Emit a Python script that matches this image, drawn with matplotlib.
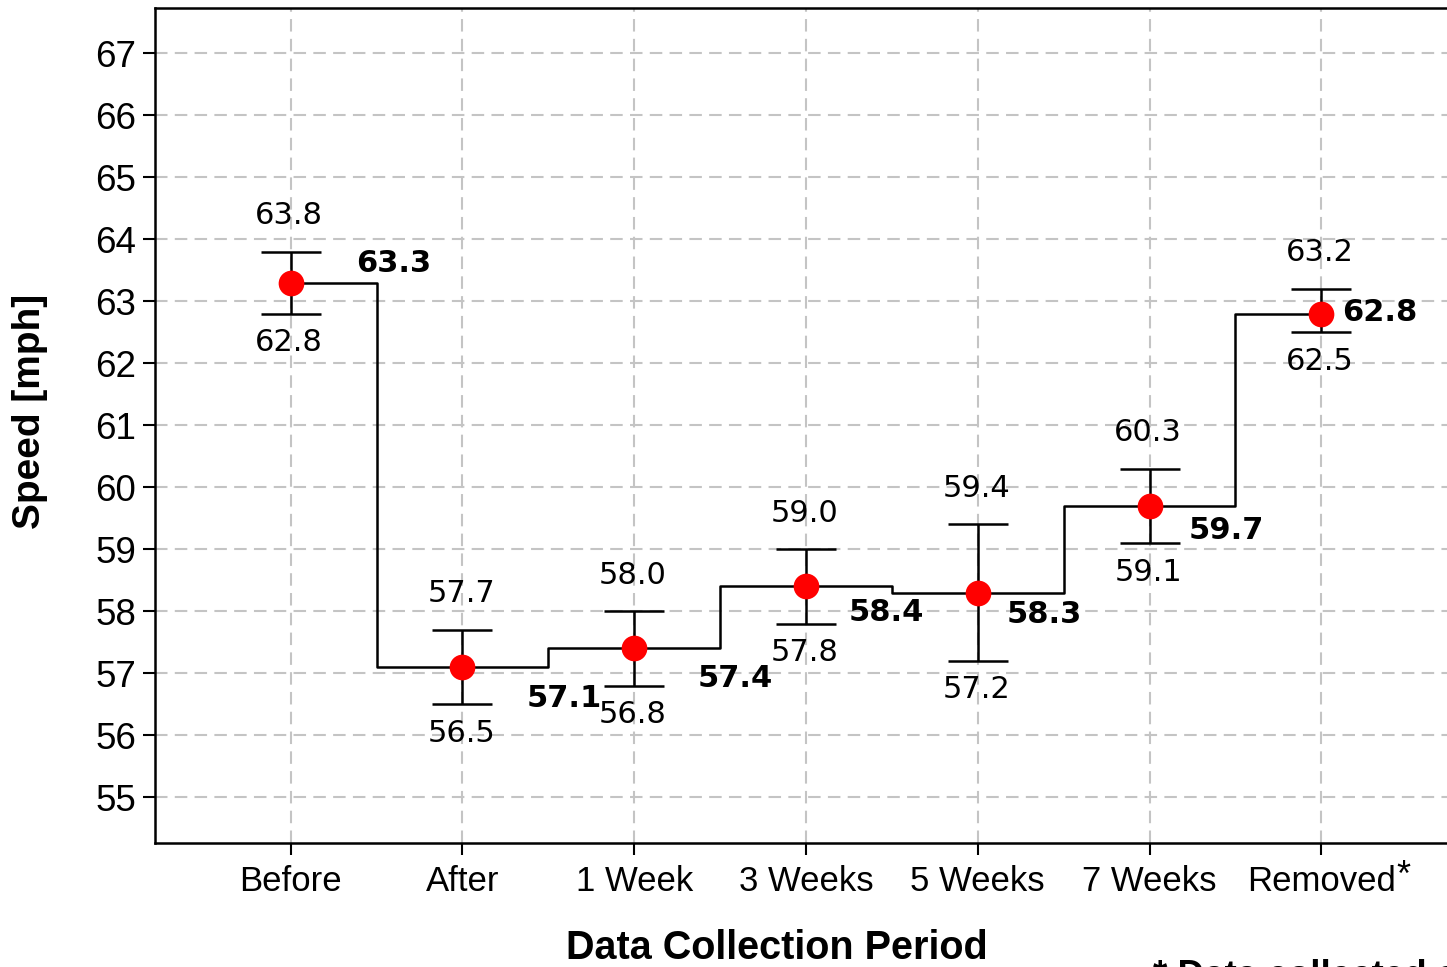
import matplotlib
matplotlib.use("Agg")
import matplotlib.pyplot as plt
import numpy as np

periods = ["Before", "After", "1 Week", "3 Weeks", "5 Weeks", "7 Weeks", "Removed"]
mean_speed = [63.3, 57.1, 57.4, 58.4, 58.3, 59.7, 62.8]
upper_speed = [63.8, 57.7, 58.0, 59.0, 59.4, 60.3, 63.2]
lower_speed = [62.8, 56.5, 56.8, 57.8, 57.2, 59.1, 62.5]
y_ticks = list(range(55, 68))

# offsets (points) of the bold mean labels, placed by hand like the original
mean_label_offsets = [(47, 13.5), (46, -23), (46, -22), (31, -18.5), (21, -15.5), (28, -18), (15, 1)]

plt.rcParams['font.family'] = ['Liberation Sans', 'DejaVu Sans']

fig = plt.figure(figsize=(14.47, 9.67), dpi=100)
ax = fig.add_axes([155 / 1447, 1 - 843 / 967, 1302 / 1447, 835 / 967])

x = np.arange(len(periods))
mean = np.array(mean_speed)
yerr = [mean - np.array(lower_speed), np.array(upper_speed) - mean]

ax.plot(x, mean, color='black', lw=1.8, drawstyle='steps-mid', zorder=3)
ax.errorbar(x, mean, yerr=yerr, fmt='none', ecolor='black', elinewidth=1.8,
            capsize=21.5, capthick=1.8, zorder=4)
ax.plot(x, mean, 'o', color='#ff0000', markersize=18.5, markeredgewidth=0, zorder=5)

for i in range(len(periods)):
    ax.annotate(f"{upper_speed[i]:.1f}", (x[i], upper_speed[i]), xytext=(-1, 26),
                textcoords='offset points', ha='center', va='center', fontsize=22,
                family='DejaVu Sans')
    ax.annotate(f"{lower_speed[i]:.1f}", (x[i], lower_speed[i]), xytext=(-1, -21),
                textcoords='offset points', ha='center', va='center', fontsize=22,
                family='DejaVu Sans')
    dx, dy = mean_label_offsets[i]
    ax.annotate(f"{mean_speed[i]:.1f}", (x[i], mean_speed[i]), xytext=(dx, dy),
                textcoords='offset points', ha='left', va='center', fontsize=22,
                fontweight='bold', family='DejaVu Sans')

ax.set_xlim(-0.79, 6.79)
ax.set_ylim(54.26, 67.73)
ax.set_yticks(y_ticks)
ax.set_xticks(x)
ax.set_xticklabels(periods)
ax.text(6.48, 53.72, "*", fontsize=26, ha='center', va='center', clip_on=False)

ax.grid(True, color='#c4c4c4', lw=1.5, linestyle=(0, (6, 3.5)), zorder=0)
ax.set_axisbelow(True)
ax.tick_params(axis='both', length=8.5, width=1.5, direction='out')
ax.tick_params(axis='y', pad=5, labelsize=26.5)
ax.tick_params(axis='x', pad=7, labelsize=25)
for s in ax.spines.values():
    s.set_linewidth(1.8)

fig.text(30 / 1447, 1 - 411 / 967, "Speed [mph]", rotation=90, ha='center', va='center',
         fontsize=28, fontweight='bold')
fig.text(777 / 1447, 1 - 948 / 967, "Data Collection Period", ha='center', va='center',
         fontsize=28.5, fontweight='bold')
fig.text(1153 / 1447, 1 - 959 / 967, "* Data collected after sign removal", ha='left', va='top',
         fontsize=26.5, fontweight='bold')

fig.savefig("out.png", dpi=100)
